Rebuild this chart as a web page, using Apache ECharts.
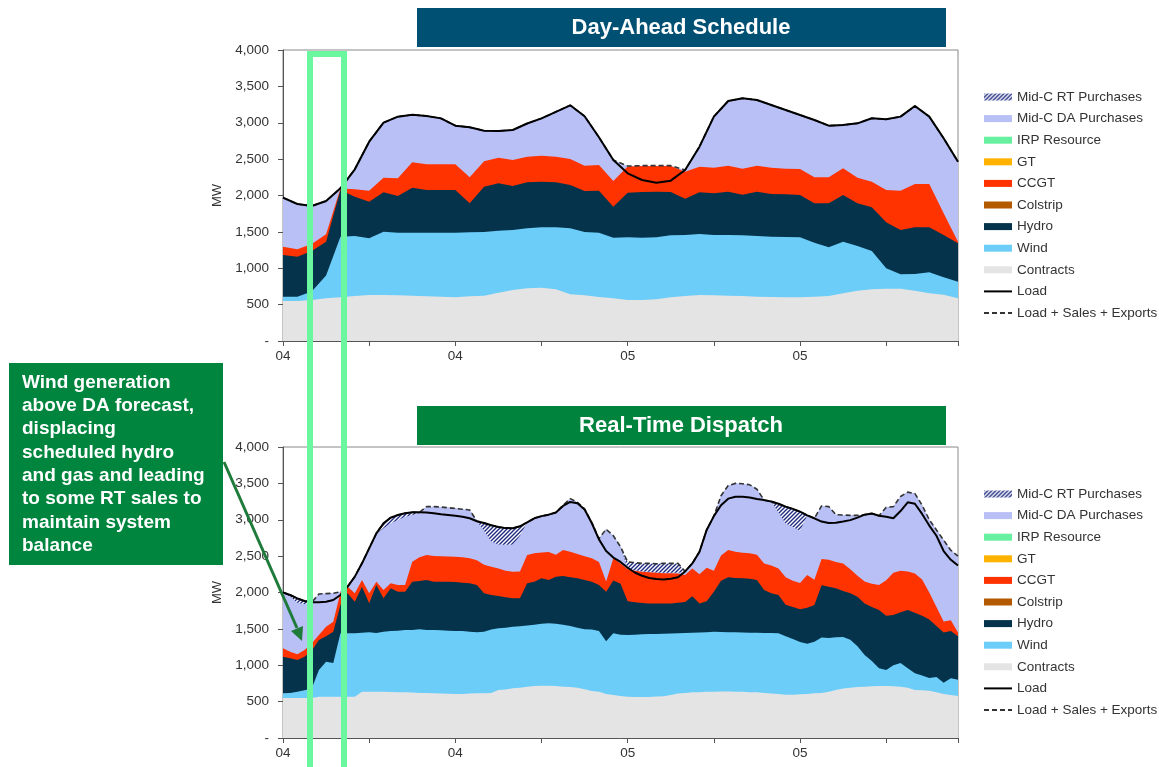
<!DOCTYPE html>
<html><head><meta charset="utf-8">
<script src="https://cdn.jsdelivr.net/npm/echarts@6/dist/echarts.min.js"></script>
<style>html,body{margin:0;padding:0;background:#fff}#c{width:1159px;height:767px}</style>
</head><body><div id="c"></div><script>
// ---------- DATA ----------
// Time axis: hours from start of day "04" (hour 0) to hour 47 of day "05"
const HOURS_DA = Array.from({length: 48}, (_, i) => i);          // hourly DA schedule
const HOURS_RT = Array.from({length: 95}, (_, i) => i / 2);      // half-hourly RT dispatch
const X_TICK_LABELS = {0: '04', 12: '04', 24: '05', 36: '05'};
const LEGEND_NAMES = ['Mid-C RT Purchases','Mid-C DA Purchases','IRP Resource','GT','CCGT','Colstrip','Hydro','Wind','Contracts','Load','Load + Sales + Exports'];

// Day-Ahead: upper edge of each layer (MW)
const daContractsTop = [550,550,563,586,600,619,632,632,628,623,614,609,600,614,623,664,701,724,733,710,641,630,605,586,563,563,573,600,619,632,628,623,619,609,605,600,600,609,619,655,692,710,719,719,692,655,637,586];
const daWindTop = [609,609,680,900,1434,1443,1411,1503,1489,1489,1489,1489,1489,1494,1498,1517,1526,1549,1562,1562,1549,1500,1489,1420,1425,1420,1425,1452,1457,1471,1457,1457,1452,1443,1434,1430,1425,1352,1287,1365,1306,1237,999,916,921,944,875,816];
const daHydroTop = [1182,1159,1237,1365,2075,1984,1915,2044,1993,2108,2076,2076,2076,1892,2121,2167,2131,2181,2190,2181,2144,2062,2066,1846,2039,2048,2053,2048,1956,2044,2030,2053,2011,2053,2021,2016,2007,1892,1892,2007,1892,1837,1631,1526,1562,1562,1457,1342];
const daCcgtTop = [1297,1260,1333,1466,2095,2085,2066,2245,2236,2456,2428,2428,2428,2250,2470,2520,2488,2534,2548,2534,2502,2410,2419,2199,2400,2405,2405,2405,2328,2396,2383,2410,2369,2410,2383,2369,2364,2250,2250,2373,2245,2190,2076,2066,2158,2158,1755,1365];
const daLoad = [1970,1883,1856,1924,2098,2360,2740,3001,3084,3110,3093,3060,2960,2937,2891,2887,2900,2990,3060,3150,3240,3090,2800,2488,2305,2213,2176,2204,2350,2671,3084,3299,3336,3313,3244,3175,3106,3038,2960,2969,2992,3061,3047,3084,3230,3084,2786,2465];
const daLoadSalesExports = [1970,1883,1856,1924,2098,2360,2740,3001,3084,3110,3093,3060,2960,2937,2891,2887,2900,2990,3060,3150,3240,3090,2800,2488,2405,2410,2410,2410,2350,2671,3084,3299,3336,3313,3244,3175,3106,3038,2960,2969,2992,3061,3047,3084,3230,3084,2786,2465];

// Real-Time: upper edge of each layer (MW), half-hourly
const rtContractsTop = [550,550,550,550,550,568,568,568,568,568,568,637,637,637,635,632,630,628,625,620,618,615,612,608,
  605,605,610,614,614,618,660,665,683,690,705,715,719,719,715,706,700,690,670,645,637,605,
  591,577,568,565,565,565,570,575,590,610,620,628,630,637,637,640,640,637,635,630,628,620,610,605,
  595,595,600,605,614,620,637,660,680,690,700,706,712,715,715,712,706,690,660,655,650,630,605,590,577];
const rtWindTop = [614,620,637,655,680,935,1049,1030,1439,1439,1440,1448,1453,1445,1462,1471,1475,1485,1485,1494,1485,1485,1480,1475,
  1471,1470,1460,1453,1460,1490,1508,1515,1530,1535,1548,1555,1570,1576,1570,1555,1540,1515,1495,1490,1470,1330,
  1440,1420,1415,1420,1425,1428,1430,1432,1435,1440,1445,1448,1450,1455,1460,1458,1455,1452,1450,1448,1448,1445,1442,1440,
  1400,1360,1320,1295,1324,1380,1375,1385,1390,1350,1260,1140,1060,960,935,1000,1030,960,890,860,825,840,760,820,800];
const rtHydroTop = [1118,1095,1072,1118,1200,1347,1400,1462,1828,1989,1874,2080,1851,2103,1920,2057,2011,2011,2149,2158,2172,2149,2149,2149,
  2145,2135,2126,2103,1989,1966,1952,1934,1920,1920,2126,2149,2195,2172,2218,2227,2209,2195,2172,2149,2103,2011,
  2165,2120,1880,1865,1855,1850,1850,1850,1850,1860,1870,1950,1850,1880,2010,2160,2209,2200,2195,2190,2172,2034,1990,1966,
  1830,1800,1770,1790,1828,2100,2080,2060,2020,1990,1940,1850,1800,1759,1680,1691,1730,1759,1720,1680,1630,1540,1450,1470,1400];
const rtCcgtTop = [1233,1187,1150,1210,1300,1416,1530,1599,2000,2080,1989,2172,1989,2149,2034,2126,2103,2103,2424,2483,2516,2502,2500,2495,
  2490,2485,2470,2445,2380,2355,2330,2300,2286,2290,2516,2540,2550,2555,2520,2584,2560,2530,2500,2470,2420,2150,
  2470,2400,2320,2300,2286,2280,2270,2263,2263,2260,2240,2330,2250,2340,2300,2510,2584,2560,2545,2540,2520,2400,2370,2330,
  2210,2160,2130,2240,2175,2460,2450,2420,2400,2320,2230,2150,2120,2103,2170,2270,2300,2290,2260,2180,2000,1800,1600,1620,1450];
const rtDaPurchasesTop = [2000,1940,1860,1840,1865,1979,1985,1990,2010,2080,2218,2401,2607,2800,2882,2951,2997,3042,3065,3088,3180,3180,3175,3165,
  3155,3145,3135,2980,2850,2700,2660,2655,2660,2780,2965,3020,3050,3070,3100,3200,3290,3240,3150,2960,2740,2870,
  2780,2630,2330,2305,2290,2285,2275,2270,2270,2270,2290,2400,2560,2860,3050,3330,3470,3500,3495,3480,3420,3270,3250,3100,
  2950,2900,2850,3060,3020,3190,3180,3070,3065,3060,3060,3070,3085,3055,3170,3180,3320,3380,3360,3200,3000,2860,2720,2580,2500];
const rtLoad = [2000,1966,1920,1883,1865,1865,1874,1897,1966,2080,2218,2401,2607,2813,2951,3029,3065,3088,3102,3102,3100,3090,3075,3065,
  3055,3040,3020,2980,2955,2925,2900,2885,2882,2910,2965,3020,3050,3070,3100,3190,3245,3226,3140,2955,2730,2570,
  2480,2420,2340,2275,2230,2200,2185,2180,2190,2210,2290,2400,2560,2860,3050,3200,3290,3317,3317,3305,3285,3270,3250,3220,
  3180,3150,3111,3060,3020,2975,2955,2960,2975,2995,3030,3070,3085,3055,3042,3020,3120,3240,3220,3080,2920,2780,2570,2450,2370];
const rtLoadSalesExports = [2000,1966,1920,1883,1865,1979,1985,1990,2010,2080,2218,2401,2607,2813,2951,3029,3065,3088,3102,3102,3180,3180,3175,3165,
  3155,3145,3135,2980,2955,2925,2900,2885,2882,2910,2965,3020,3050,3070,3100,3200,3290,3240,3150,2960,2740,2870,
  2780,2630,2420,2410,2400,2400,2395,2400,2400,2400,2290,2400,2560,2860,3050,3330,3470,3500,3495,3480,3420,3270,3250,3220,
  3180,3150,3111,3060,3020,3190,3180,3070,3065,3060,3060,3070,3085,3055,3170,3180,3320,3380,3360,3200,3000,2860,2720,2580,2500];

// ---------- STYLE ----------
const FONT = '"Liberation Sans", Arial, sans-serif';
const COL = {rt:'#1f2b80', da:'#b8c0f6', irp:'#66f0a0', gt:'#ffb300', ccgt:'#ff3300', colstrip:'#b35900', hydro:'#05334b', wind:'#6ccdf8', contracts:'#e4e4e4'};

function hatchCanvas() {
  const c = document.createElement('canvas');
  c.width = 4; c.height = 4;
  const g = c.getContext('2d');
  g.strokeStyle = COL.rt; g.lineWidth = 1.4;
  g.beginPath();
  g.moveTo(0, 4); g.lineTo(4, 0);
  g.moveTo(-1, 1); g.lineTo(1, -1);
  g.moveTo(3, 5); g.lineTo(5, 3);
  g.stroke();
  return c;
}
const HATCH = {image: hatchCanvas(), repeat: 'repeat'};

function pairs(xs, ys) { return ys ? xs.map((x, i) => [x, ys[i]]) : []; }
function areaS(name, xs, ys, color, g, areaColor) {
  return {type: 'line', name, xAxisIndex: g, yAxisIndex: g, data: pairs(xs, ys), symbol: 'none', showSymbol: false,
    lineStyle: {width: 0}, itemStyle: {color}, areaStyle: {color: areaColor || color, opacity: 1}, silent: true, z: 2};
}
function lineS(name, xs, ys, g, dashed) {
  const color = dashed ? '#333' : '#000';
  return {type: 'line', name, xAxisIndex: g, yAxisIndex: g, data: pairs(xs, ys), symbol: 'none', showSymbol: false,
    lineStyle: {color, width: dashed ? 1.6 : 2, type: dashed ? [5, 3] : 'solid'}, itemStyle: {color}, silent: true, z: 3};
}
function seriesFor(g, xs, d) {
  return [
    areaS('Mid-C RT Purchases', xs, d.rtTop, COL.rt, g, HATCH),
    areaS('Mid-C DA Purchases', xs, d.daTop, COL.da, g),
    areaS('IRP Resource', xs, null, COL.irp, g),
    areaS('GT', xs, null, COL.gt, g),
    areaS('CCGT', xs, d.ccgt, COL.ccgt, g),
    areaS('Colstrip', xs, null, COL.colstrip, g),
    areaS('Hydro', xs, d.hydro, COL.hydro, g),
    areaS('Wind', xs, d.wind, COL.wind, g),
    areaS('Contracts', xs, d.contracts, COL.contracts, g),
    lineS('Load + Sales + Exports', xs, d.lse, g, true),
    lineS('Load', xs, d.load, g, false)
  ];
}
const legendData = LEGEND_NAMES.map(n => {
  if (n === 'Mid-C RT Purchases') return {name: n, icon: 'rect', itemStyle: {color: HATCH}};
  if (n.indexOf('Load') === 0) return {name: n, itemStyle: {opacity: 0}};
  return {name: n, icon: 'rect'};
});
function legendAt(top) {
  return {orient: 'vertical', left: 983, top, padding: 0, itemWidth: 28, itemHeight: 7, itemGap: 7.6, selectedMode: false,
    textStyle: {fontSize: 13.5, color: '#333', fontFamily: FONT}, data: legendData};
}
function xAx(g) {
  return {gridIndex: g, type: 'value', min: 0, max: 47, interval: 6,
    axisLine: {show: true, lineStyle: {color: '#555'}}, axisTick: {show: true, length: 5, lineStyle: {color: '#555'}},
    axisLabel: {fontSize: 13.5, color: '#333', fontFamily: FONT, margin: 8, formatter: v => X_TICK_LABELS[v] || ''},
    splitLine: {show: false}};
}
function yAx(g) {
  return {gridIndex: g, type: 'value', min: 0, max: 4000, interval: 500, name: 'MW', nameLocation: 'middle', nameGap: 45,
    nameTextStyle: {fontSize: 13, color: '#333', fontFamily: FONT},
    axisLine: {show: true, lineStyle: {color: '#555'}}, axisTick: {show: true, length: 5, lineStyle: {color: '#555'}},
    axisLabel: {fontSize: 13.5, color: '#333', fontFamily: FONT, margin: 14, formatter: v => v === 0 ? '-' : v.toLocaleString('en-US')},
    splitLine: {show: false}};
}
const annoText = 'Wind generation\nabove DA forecast,\ndisplacing\nscheduled hydro\nand gas and leading\nto some RT sales to\nmaintain system\nbalance';

const chart = echarts.init(document.getElementById('c'));
chart.setOption({
  animation: false,
  backgroundColor: '#fff',
  grid: [
    {left: 283, top: 50, width: 675, height: 291, show: true, borderColor: '#888', borderWidth: 1},
    {left: 283, top: 447, width: 675, height: 291, show: true, borderColor: '#888', borderWidth: 1}
  ],
  xAxis: [xAx(0), xAx(1)],
  yAxis: [yAx(0), yAx(1)],
  legend: [legendAt(90), legendAt(487)],
  series: [].concat(
    seriesFor(0, HOURS_DA, {rtTop: null, daTop: daLoadSalesExports, ccgt: daCcgtTop, hydro: daHydroTop, wind: daWindTop, contracts: daContractsTop, lse: daLoadSalesExports, load: daLoad}),
    seriesFor(1, HOURS_RT, {rtTop: rtLoadSalesExports, daTop: rtDaPurchasesTop, ccgt: rtCcgtTop, hydro: rtHydroTop, wind: rtWindTop, contracts: rtContractsTop, lse: rtLoadSalesExports, load: rtLoad})
  ),
  graphic: [
    {type: 'rect', z: 100, shape: {x: 417, y: 8, width: 529, height: 39}, style: {fill: '#005073'}},
    {type: 'text', z: 101, x: 681, y: 28, style: {text: 'Day-Ahead Schedule', fill: '#fff', font: 'bold 22px ' + FONT, align: 'center', verticalAlign: 'middle', textAlign: 'center', textVerticalAlign: 'middle'}},
    {type: 'rect', z: 100, shape: {x: 417, y: 406, width: 529, height: 39}, style: {fill: '#00843d'}},
    {type: 'text', z: 101, x: 681, y: 426, style: {text: 'Real-Time Dispatch', fill: '#fff', font: 'bold 22px ' + FONT, align: 'center', verticalAlign: 'middle', textAlign: 'center', textVerticalAlign: 'middle'}},
    {type: 'rect', z: 100, shape: {x: 9, y: 363, width: 214, height: 202}, style: {fill: '#00853e'}},
    {type: 'text', z: 101, x: 22, y: 371, style: {text: annoText, fill: '#fff', font: 'bold 19px ' + FONT, lineHeight: 23.3, align: 'left', verticalAlign: 'top', textAlign: 'left', textVerticalAlign: 'top'}},
    {type: 'rect', z: 102, shape: {x: 310, y: 54, width: 34, height: 800}, style: {fill: 'none', stroke: '#6af7a0', lineWidth: 6}},
    {type: 'line', z: 103, shape: {x1: 224, y1: 462, x2: 297, y2: 628}, style: {stroke: '#1e7b3a', lineWidth: 3}},
    {type: 'polygon', z: 103, shape: {points: [[302, 641], [291, 631], [303, 626]]}, style: {fill: '#1e7b3a'}}
  ]
});
</script></body></html>
